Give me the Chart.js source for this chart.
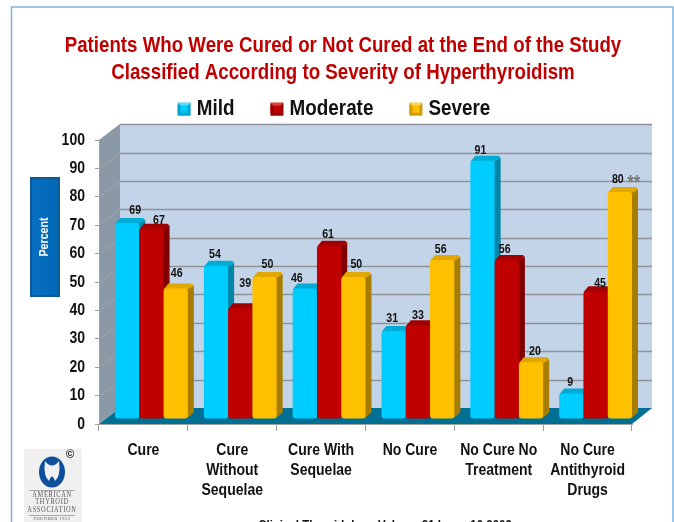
<!DOCTYPE html>
<html><head><meta charset="utf-8">
<style>html,body{margin:0;padding:0;background:#fff}#w{width:674px;height:522px;position:relative;overflow:hidden}</style>
<script src="https://cdn.jsdelivr.net/npm/chart.js@4"></script>
</head><body><div id="w"><canvas id="c" width="674" height="522"></canvas></div>
<script>
const categories = [["Cure"],["Cure","Without","Sequelae"],["Cure With","Sequelae"],["No Cure"],["No Cure No","Treatment"],["No Cure","Antithyroid","Drugs"]];
const mild = [69,54,46,31,91,9];
const moderate = [67,39,61,33,56,45];
const severe = [46,50,50,56,20,80];
const titleLines = ["Patients Who Were Cured or Not Cured at the End of the Study","Classified According to Severity of Hyperthyroidism"];
const yTicks = [0,10,20,30,40,50,60,70,80,90,100];
const footnote = "Clinical Thyroidology Volume 21 Issue 10 2009";
const logoLines = ["AMERICAN","THYROID","ASSOCIATION"];
// label nudges relative to bar centre / bar top (style only)
const nudgeX = [[8,-1,-8,-1.5,-2,-1],[7.5,5,-1,0,-2,4.5],[1,3,3,-1.5,4,-2]];
const nudgeY = [[-13,-11,-10,-12,-10,-11],[-8,-25,-11,-10,-10,-8],[-15,-13,-13,-10,-11,-12]];

const SANS = '"Liberation Sans",Arial,sans-serif';
const DEPTH = {x:21,y:16}, BAR = {dx:8,dy:-5,x:6,y:5};
const shade = [
 {front:'#00cdff',top:'#00abd6',side:'#0085a6',hi:'#5fe0ff',lo:'#00a5d0'},
 {front:'#c00000',top:'#a00000',side:'#800000',hi:'#e84040',lo:'#980000'},
 {front:'#ffc000',top:'#e0a800',side:'#a67d00',hi:'#ffd75a',lo:'#d09c00'}];

// The reference type is a condensed bold face: narrow all canvas text horizontally.
const canvas = document.getElementById('c');
const ctx0 = canvas.getContext('2d');
const NARROW_K = 0.85;
const rawFill = ctx0.fillText.bind(ctx0), rawMeasure = ctx0.measureText.bind(ctx0);
ctx0.fillText = function(t,x,y){ctx0.save();ctx0.translate(x,y);ctx0.scale(NARROW_K,1);rawFill(t,0,0);ctx0.restore();};
ctx0.measureText = function(t){return {width:rawMeasure(t).width*NARROW_K};};

const scene = {
 id:'scene',
 beforeLayout(ch){
  const l=ch.legend;
  if(l&&!l._fixedH){l._fixedH=true;const f=l.fit.bind(l);l.fit=function(){f();l.height=78;};}
 },
 afterLayout(ch){
  // centre title and legend where the reference does, not over the plot box
  ch.titleBlock.left+=27;ch.titleBlock.right+=27;
  ch.legend.left+=18;ch.legend.right+=18;
 },
 beforeDraw(ch){
  const c=ch.ctx, a=ch.chartArea, y=ch.scales.y;
  c.save();
  c.fillStyle='#fff';c.fillRect(0,0,ch.width,ch.height);
  c.strokeStyle='#7fb2dc';c.lineWidth=1.5;c.strokeRect(11.5,7,661.5,530);
  // Percent box
  const g=c.createLinearGradient(30,0,60,0);g.addColorStop(0,'#0a6fc4');g.addColorStop(1,'#0068b4');
  c.fillStyle=g;c.fillRect(30,177,30,120);
  c.strokeStyle='#0b5a94';c.lineWidth=2;c.strokeRect(31,178,28,118);
  c.fillStyle='#fff';c.font='bold 12.5px '+SANS;c.textAlign='center';c.textBaseline='middle';
  c.translate(45,237);c.rotate(-Math.PI/2);c.fillText('Percent',0,0);
  c.restore();c.save();
  // logo
  c.fillStyle='#f0f0f0';c.fillRect(24,449,58,73);
  c.fillStyle='#0e4f9e';c.beginPath();c.ellipse(52,472,13,15.5,0,0,7);c.fill();
  c.fillStyle='#f0f0f0';c.beginPath();c.moveTo(45,461);c.quadraticCurveTo(52,470,59,461);c.quadraticCurveTo(61,476,55,481);c.quadraticCurveTo(52,472,49,481);c.quadraticCurveTo(43,476,45,461);c.fill();
  c.fillStyle='#222';c.font='bold 13px '+SANS;c.textAlign='center';c.textBaseline='middle';c.fillText('©',70,454);
  c.fillStyle='#555';c.font='7.5px "Liberation Serif",serif';c.letterSpacing='0.8px';
  logoLines.forEach((t,i)=>c.fillText(t,52,495+i*7.5));
  c.font='5px "Liberation Serif",serif';c.letterSpacing='0.7px';c.fillText('FOUNDED 1923',52,519);
  c.letterSpacing='0px';
  c.fillStyle='#aaa';c.fillRect(29,490,46,1);c.fillRect(29,515,46,1);
  // footnote
  c.fillStyle='#111';c.font='bold 13.5px '+SANS;c.textBaseline='alphabetic';c.fillText(footnote,385,529);
  // side wall
  const L=a.left,R=a.right,T=a.top,B=a.bottom;
  c.fillStyle='#8b99a6';c.beginPath();c.moveTo(L,T);c.lineTo(L+DEPTH.x,T-DEPTH.y);c.lineTo(L+DEPTH.x,B-DEPTH.y);c.lineTo(L,B);c.fill();
  // back wall
  c.fillStyle='#c3d4e9';c.fillRect(L+DEPTH.x,T-DEPTH.y,R-L-1,B-T);
  // floor
  c.fillStyle='#006f94';c.beginPath();c.moveTo(L,B);c.lineTo(R,B);c.lineTo(R+DEPTH.x-1,B-DEPTH.y);c.lineTo(L+DEPTH.x,B-DEPTH.y);c.fill();
  // grid
  yTicks.slice(1).forEach(v=>{
    const p=Math.round(y.getPixelForValue(v))+.5;
    c.strokeStyle='#a0a4a8';c.lineWidth=1;c.beginPath();c.moveTo(L,p);c.lineTo(L+DEPTH.x,p-DEPTH.y);c.stroke();
    c.strokeStyle='#8e9296';c.lineWidth=1.3;c.beginPath();c.moveTo(L+DEPTH.x,p-DEPTH.y);c.lineTo(R+DEPTH.x-1,p-DEPTH.y);c.stroke();
  });
  c.restore();
 },
 // Bars are painted first series to last (each series sits over the previous one's side face).
 beforeDatasetsDraw(ch){
  const c=ch.ctx;
  ch.data.datasets.forEach((d,i)=>{
   const meta=ch.getDatasetMeta(i), s=shade[i];
   c.save();c.translate(BAR.dx,BAR.dy);
   meta.data.forEach(el=>{
    const p=el.getProps(['x','y','base','width'],true), l=p.x-p.width/2, r=p.x+p.width/2;
    c.fillStyle=s.side;c.beginPath();c.moveTo(r-1,p.y+1);c.lineTo(r+BAR.x,p.y-BAR.y+2);c.lineTo(r+BAR.x,p.base-BAR.y-1);c.lineTo(r-1,p.base);c.fill();
    c.fillStyle=s.top;c.beginPath();c.moveTo(l,p.y+1);c.lineTo(l+BAR.x-1,p.y-BAR.y);c.lineTo(r+BAR.x-2,p.y-BAR.y);c.lineTo(r+BAR.x,p.y-BAR.y+2);c.lineTo(r,p.y+1);c.fill();
   });
   meta.controller.draw();
   c.restore();
  });
  c.save();
  c.font='bold 12.5px '+SANS;c.fillStyle='#111';c.textAlign='center';c.textBaseline='middle';
  ch.data.datasets.forEach((d,i)=>{
   ch.getDatasetMeta(i).data.forEach((el,j)=>{
    const lx=el.x+BAR.dx+nudgeX[i][j], ly=el.y+BAR.dy+nudgeY[i][j];
    c.fillText(String(d.data[j]),lx,ly);
    if(i===2&&j===5){c.save();c.fillStyle='#777';c.font='bold 20px '+SANS;c.fillText('**',lx+16,ly+4);c.restore();}
   });
  });
  c.restore();
  return false;
 },
 afterDraw(ch){
  const c=ch.ctx;c.save();
  (ch.legend.legendHitBoxes||[]).forEach((b,i)=>{
   const x=b.left,y=b.top+b.height/2-6.5,s=shade[i],n=13,d=3;
   c.fillStyle=s.lo;c.fillRect(x,y,n,n);
   c.fillStyle=s.hi;c.beginPath();c.moveTo(x,y);c.lineTo(x+n,y);c.lineTo(x+n-d,y+d);c.lineTo(x+d,y+d);c.fill();
   c.fillStyle=s.front;c.fillRect(x+d,y+d,n-2*d,n-2*d);
  });
  c.restore();
 }
};

new Chart(canvas,{
 type:'bar',
 plugins:[scene],
 data:{labels:categories,datasets:[
  {label:'Mild',data:mild,backgroundColor:shade[0].front},
  {label:'Moderate',data:moderate,backgroundColor:shade[1].front},
  {label:'Severe',data:severe,backgroundColor:shade[2].front}]},
 options:{
  responsive:false,animation:false,devicePixelRatio:1,
  layout:{padding:{left:0,right:42,top:0,bottom:0}},
  datasets:{bar:{categoryPercentage:.82,barPercentage:1,borderRadius:3,borderSkipped:false}},
  plugins:{
   tooltip:{enabled:false},
   title:{display:true,text:titleLines,color:'#c00000',align:'center',
     font:{family:SANS,size:22,weight:'bold',lineHeight:1.23},padding:{top:32,bottom:-24}},
   legend:{position:'top',labels:{font:{family:SANS,size:22.2,weight:'bold'},color:'#111',boxWidth:8,boxHeight:8,padding:36}}
  },
  scales:{
   x:{grid:{drawOnChartArea:false,tickLength:7,color:'#a0a0a0'},border:{color:'#a0a0a0'},
      ticks:{color:'#111',font:{family:SANS,size:16.5,weight:'bold',lineHeight:1.19},padding:10,maxRotation:0,autoSkip:false},
      afterFit(s){s.height=98;}},
   y:{min:0,max:100,afterBuildTicks(s){s.ticks=yTicks.map(v=>({value:v}));},
      grid:{drawOnChartArea:false,tickLength:4,color:'#a0a0a0'},border:{color:'#a0a0a0'},
      ticks:{color:'#111',font:{family:SANS,size:16.5,weight:'bold'},padding:10},
      afterFit(s){s.width=99;}}
  }
 }
});
</script></body></html>
